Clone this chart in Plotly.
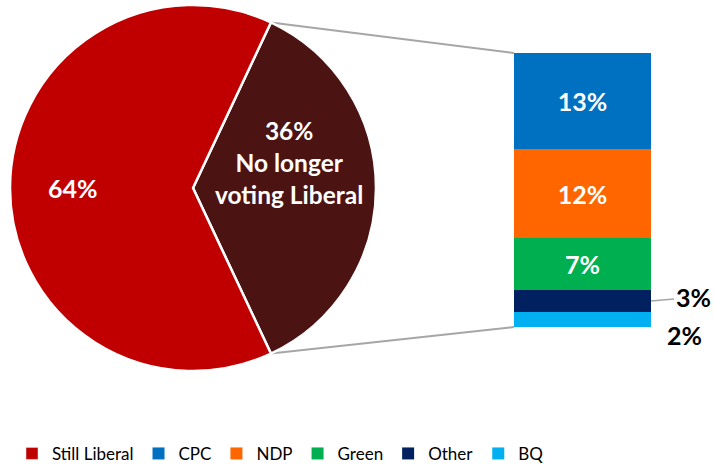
import math
import plotly.graph_objects as go

# ---- data ----
pie_labels = ["No longer voting Liberal", "Still Liberal"]
pie_values = [36, 64]
pie_colors = ["#4B1412", "#C00000"]

bar_labels = ["CPC", "NDP", "Green", "Other", "BQ"]
bar_values = [13, 12, 7, 3, 2]
bar_colors = ["#0070C0", "#FF6600", "#00B050", "#002060", "#00B0F0"]

# ---- layout geometry (pixels) ----
W, H = 714, 464
cx, cy, r = 193, 188, 183
pie_dom_x = [(cx - r) / W, (cx + r) / W]
pie_dom_y = [1 - (cy + r) / H, 1 - (cy - r) / H]
bar_left, bar_right, bar_top, bar_bottom = 514, 651, 53, 327
bar_dom_x = [bar_left / W, bar_right / W]
bar_dom_y = [1 - bar_bottom / H, 1 - bar_top / H]
total = sum(bar_values)

FONT = "Lato, 'Open Sans', sans-serif"

fig = go.Figure()

share = pie_values[0] / sum(pie_values)
rot = 90 - share * 360 / 2
fig.add_trace(go.Pie(
    labels=pie_labels, values=pie_values, sort=False, direction="clockwise",
    rotation=rot, textinfo="none", showlegend=False,
    marker=dict(colors=pie_colors, line=dict(color="white", width=2.5)),
    domain=dict(x=pie_dom_x, y=pie_dom_y),
))

# legend-only entry for Still Liberal
fig.add_trace(go.Bar(x=[0], y=[None], name=pie_labels[1], marker_color=pie_colors[1],
                     legendrank=1, hoverinfo="skip"))

# stacked bar: bottom first
n = len(bar_labels)
for i in reversed(range(n)):
    v = bar_values[i]
    fig.add_trace(go.Bar(
        x=[0], y=[v], name=bar_labels[i], width=1,
        marker=dict(color=bar_colors[i], line=dict(width=0)),
        text=[f"{v}%"] if v >= 5 else None,
        textposition="inside", insidetextanchor="middle", textangle=0,
        insidetextfont=dict(color="white", size=25, family=FONT, weight="bold"),
        legendrank=i + 2,
    ))

# connector lines from pie slice edges to bar corners
a1 = math.radians(rot)
a2 = math.radians(rot + share * 360)
p1 = (cx + r * math.sin(a1), cy - r * math.cos(a1))
p2 = (cx + r * math.sin(a2), cy - r * math.cos(a2))
for (px, py), by in [(p1, bar_top), (p2, bar_bottom)]:
    fig.add_shape(type="line", xref="paper", yref="paper",
                  x0=px / W, y0=1 - py / H, x1=bar_left / W, y1=1 - by / H,
                  line=dict(color="#A6A6A6", width=2), layer="below")

# pie labels
fig.add_annotation(x=(cx - 120) / W, y=1 - cy / H, xref="paper", yref="paper",
                   xanchor="center", yanchor="middle",
                   text=f"{pie_values[1]}%", showarrow=False,
                   font=dict(color="white", size=25, family=FONT, weight="bold"))
fig.add_annotation(x=(cx + 96) / W, y=1 - 163 / H, xref="paper", yref="paper",
                   xanchor="center", yanchor="middle",
                   text=f"{pie_values[0]}%<br>No longer<br>voting Liberal", showarrow=False,
                   font=dict(color="white", size=24.5, family=FONT, weight="bold"))

# small outside labels
cum_other = bar_values[4] + bar_values[3] / 2
fig.add_annotation(x=0.5, y=cum_other, xref="x", yref="y",
                   text=f"{bar_values[3]}%", showarrow=True, arrowhead=0,
                   arrowcolor="#A6A6A6", arrowwidth=1.5, ax=42, ay=-4, standoff=0,
                   font=dict(color="black", size=25, family=FONT, weight="bold"))
fig.add_annotation(x=0.5, y=0, xref="x", yref="y", xanchor="left",
                   text=f"{bar_values[4]}%", showarrow=False, xshift=14, yshift=-8,
                   font=dict(color="black", size=25, family=FONT, weight="bold"))

fig.update_layout(
    width=W, height=H, margin=dict(l=0, r=0, t=0, b=0, autoexpand=False),
    paper_bgcolor="white", plot_bgcolor="white",
    barmode="stack",
    xaxis=dict(domain=bar_dom_x, range=[-0.5, 0.5], visible=False, fixedrange=True),
    yaxis=dict(domain=bar_dom_y, range=[0, total], visible=False, fixedrange=True),
    legend=dict(orientation="h", x=12 / W, xanchor="left", y=-0.017, yanchor="bottom",
                traceorder="normal",
                font=dict(size=17, family=FONT, color="black"),
                itemwidth=30, tracegroupgap=0),
    showlegend=True,
)

fig.write_html("out.html", config={"displayModeBar": False},
               post_script="document.body.style.margin='0';")
